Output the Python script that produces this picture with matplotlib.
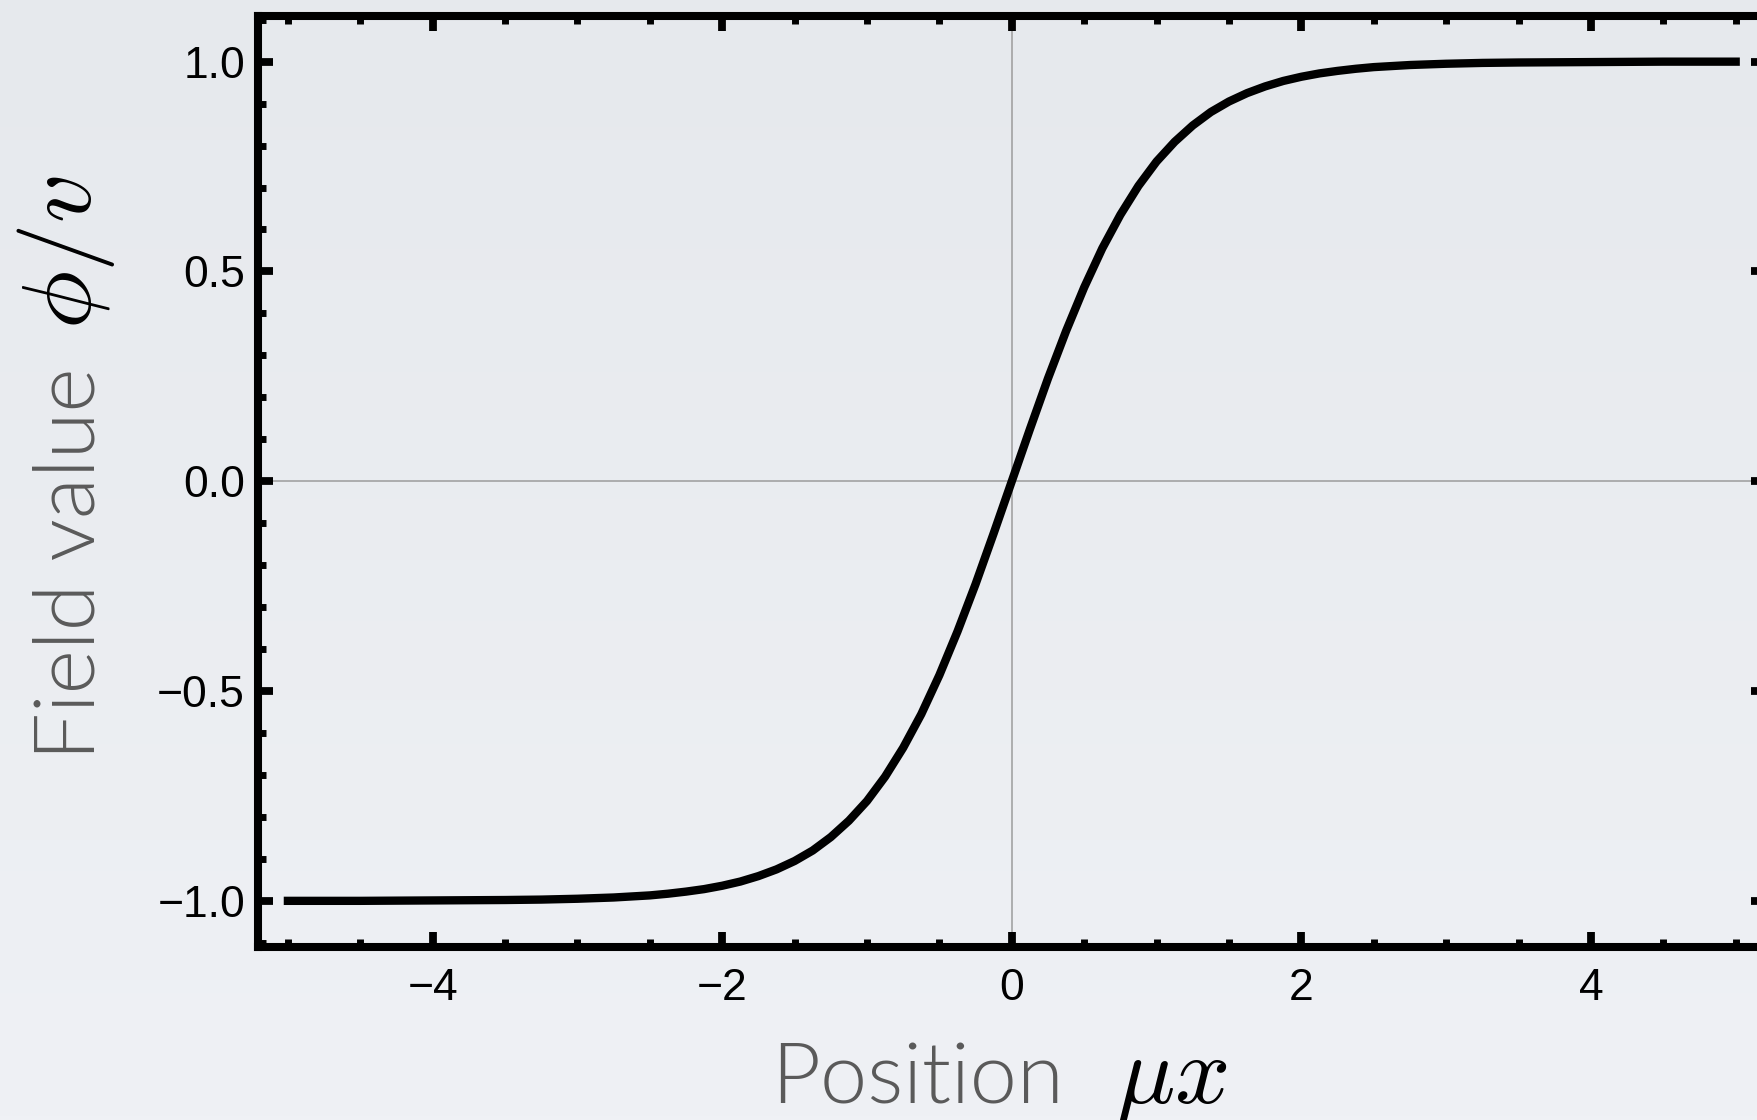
import os
import numpy as np
import matplotlib.pyplot as plt
from matplotlib import font_manager as fm
from matplotlib.ticker import MultipleLocator
from matplotlib.colors import LinearSegmentedColormap

# kink profile: field value phi/v against position mu*x
x_pos = [-5.0, -4.5, -4.0, -3.5, -3.25, -3.0, -2.75,
         -2.5, -2.375, -2.25, -2.125, -2.0, -1.875, -1.75, -1.625,
         -1.5, -1.375, -1.25, -1.125, -1.0, -0.875, -0.75, -0.625,
         -0.5, -0.375, -0.25, -0.125, 0.0, 0.125, 0.25, 0.375,
         0.5, 0.625, 0.75, 0.875, 1.0, 1.125, 1.25, 1.375,
         1.5, 1.625, 1.75, 1.875, 2.0, 2.125, 2.25, 2.375,
         2.5, 2.75, 3.0, 3.25, 3.5, 4.0, 4.5, 5.0]
phi = [-1.000, -1.000, -0.999, -0.998, -0.997, -0.995, -0.992,
       -0.987, -0.983, -0.978, -0.972, -0.964, -0.954, -0.941, -0.925,
       -0.905, -0.880, -0.848, -0.809, -0.762, -0.704, -0.635, -0.555,
       -0.462, -0.358, -0.245, -0.124, 0.000, 0.124, 0.245, 0.358,
       0.462, 0.555, 0.635, 0.704, 0.762, 0.809, 0.848, 0.880,
       0.905, 0.925, 0.941, 0.954, 0.964, 0.972, 0.978, 0.983,
       0.987, 0.992, 0.995, 0.997, 0.998, 0.999, 1.000, 1.000]

x_ticks = [-4, -2, 0, 2, 4]
x_tick_labels = ['\u22124', '\u22122', '0', '2', '4']
y_ticks = [-1.0, -0.5, 0.0, 0.5, 1.0]
y_tick_labels = ['\u22121.0', '\u22120.5', '0.0', '0.5', '1.0']

plt.rcParams['mathtext.fontset'] = 'cm'
plt.rcParams['font.family'] = ['Liberation Sans', 'DejaVu Sans']

# light humanist sans for the grey label words
light_file = None
for wanted in ['Lato-Light.ttf', 'OpenSans-Light.ttf', 'Roboto-Light.ttf']:
    for f in fm.fontManager.ttflist:
        if os.path.basename(f.fname) == wanted:
            light_file = f.fname
            break
    if light_file:
        break
if light_file:
    label_font = fm.FontProperties(fname=light_file, size=61)
else:
    label_font = fm.FontProperties(family='Lato', size=61)

fig = plt.figure(figsize=(17.57, 11.2), dpi=100)

# soft slide-like background
bg = fig.add_axes([0, 0, 1, 1], zorder=-10)
grad = np.linspace(0, 1, 256).reshape(-1, 1)
cmap = LinearSegmentedColormap.from_list('bg', ['#e6e9ed', '#eff1f5'])
bg.imshow(grad, aspect='auto', cmap=cmap, extent=[0, 1, 0, 1])
bg.axis('off')

ax = fig.add_axes([0.14656, 0.15446, 0.8586, 0.8317])
ax.set_facecolor('none')

ax.axhline(0, color='#9c9c9c', lw=1.1, zorder=1)
ax.axvline(0, color='#9c9c9c', lw=1.1, zorder=1)
ax.plot(x_pos, phi, color='black', lw=6.0, zorder=3)

ax.set_xlim(-5.21, 5.21)
ax.set_ylim(-1.11, 1.11)
ax.set_xticks(x_ticks, x_tick_labels)
ax.set_yticks(y_ticks, y_tick_labels)
ax.xaxis.set_minor_locator(MultipleLocator(0.5))
ax.yaxis.set_minor_locator(MultipleLocator(0.1))

for sp in ax.spines.values():
    sp.set_linewidth(5.8)
    sp.set_color('black')

ax.tick_params(which='both', direction='in', top=True, right=True, color='black')
ax.tick_params(which='major', length=10.8, width=5.6, labelsize=32)
ax.tick_params(which='minor', length=5.8, width=5.0)
ax.tick_params(axis='x', which='major', pad=15)
ax.tick_params(axis='y', which='major', pad=9)

# axis labels: grey light words plus black math part
fig.text(0.054, 0.321, 'Field value', rotation=90, rotation_mode='anchor',
         ha='left', va='baseline', fontproperties=label_font, color='#5a5a5a')
fig.text(0.052, 0.706, r'$\phi/v$', rotation=90, rotation_mode='anchor',
         ha='left', va='baseline', fontsize=70, color='black')
fig.text(0.439, 0.015, 'Position', ha='left', va='baseline',
         fontproperties=label_font, color='#5a5a5a')
fig.text(0.6354, 0.015, r'$\mu x$', ha='left', va='baseline', fontsize=70,
         color='black')

fig.savefig('out.png', dpi=100)
